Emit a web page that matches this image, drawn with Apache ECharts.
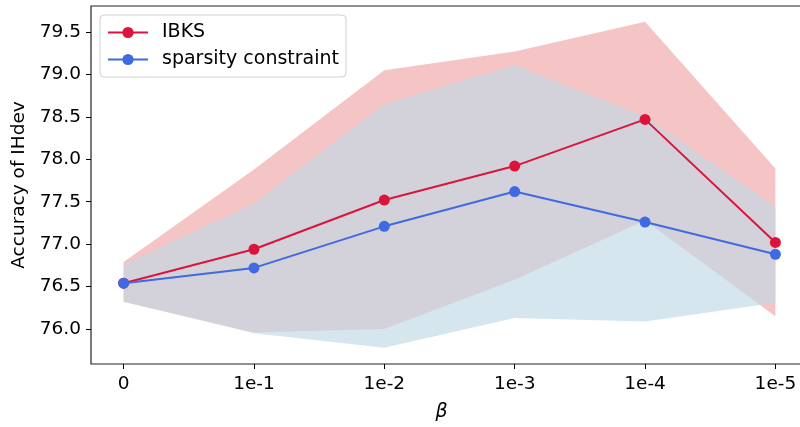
<!DOCTYPE html>
<html>
<head>
<meta charset="utf-8">
<script src="https://cdn.jsdelivr.net/npm/echarts@6/dist/echarts.min.js"></script>
<style>html,body{margin:0;padding:0;background:#fff}#c{width:800px;height:427px}</style>
</head>
<body>
<div id="c"></div>
<script>
const categories = ['0', '1e-1', '1e-2', '1e-3', '1e-4', '1e-5'];
const ibksMean = [76.54, 76.94, 77.52, 77.92, 78.47, 77.02];
const ibksUpper = [76.79, 77.88, 79.05, 79.27, 79.62, 77.89];
const ibksLower = [76.32, 75.96, 76.00, 76.58, 77.28, 76.15];
const sparseMean = [76.54, 76.72, 77.21, 77.62, 77.26, 76.88];
const sparseUpper = [76.76, 77.48, 78.65, 79.11, 78.50, 77.44];
const sparseLower = [76.32, 75.95, 75.78, 76.13, 76.09, 76.31];
const yTicks = [76.0, 76.5, 77.0, 77.5, 78.0, 78.5, 79.0, 79.5];

const FONT = 'DejaVu Sans';
const xIdx = categories.map((c, i) => i);

function band(name, upper, lower, fill, z) {
  return {
    type: 'custom', name: name, z: z, silent: true,
    data: [[0, upper[0]]],
    renderItem: function (params, api) {
      const pts = [];
      for (let i = 0; i < upper.length; i++) pts.push(api.coord([xIdx[i], upper[i]]));
      for (let i = lower.length - 1; i >= 0; i--) pts.push(api.coord([xIdx[i], lower[i]]));
      return { type: 'polygon', shape: { points: pts }, style: { fill: fill, stroke: null } };
    }
  };
}

const chart = echarts.init(document.getElementById('c'), null, { renderer: 'canvas' });
chart.setOption({
  animation: false,
  backgroundColor: '#fff',
  textStyle: { fontFamily: FONT },
  grid: { left: 91, right: -8, top: 6, bottom: 63, show: true, borderColor: '#222', borderWidth: 1.2, backgroundColor: 'transparent', outerBoundsMode: 'none', containLabel: false },
  legend: {
    orient: 'vertical', left: 100, top: 15,
    data: ['IBKS', 'sparsity constraint'],
    itemWidth: 40, itemHeight: 14, itemGap: 8,
    padding: [8, 7, 8, 7],
    backgroundColor: 'rgba(255,255,255,0.8)', borderColor: '#d0d0d0', borderWidth: 1, borderRadius: 4,
    textStyle: { fontFamily: FONT, fontSize: 19, color: '#000', padding: [0, 0, 0, 9] }
  },
  xAxis: {
    type: 'value', min: -0.25, max: 5.25,
    name: 'β', nameLocation: 'middle', nameGap: 39,
    nameTextStyle: { fontFamily: FONT, fontSize: 19, fontStyle: 'italic', color: '#000', padding: [0, 16, 0, 0] },
    splitLine: { show: false },
    axisLine: { show: false, onZero: false },
    axisTick: { show: true, customValues: xIdx, length: 5, lineStyle: { color: '#000', width: 1 } },
    axisLabel: { customValues: xIdx, formatter: v => categories[Math.round(v)], fontFamily: FONT, fontSize: 18.5, color: '#000', margin: 11 }
  },
  yAxis: {
    type: 'value', min: 75.588, max: 79.806,
    name: 'Accuracy of IHdev', nameLocation: 'middle', nameGap: 62,
    nameTextStyle: { fontFamily: FONT, fontSize: 18.5, color: '#000' },
    splitLine: { show: false },
    axisLine: { show: false, onZero: false },
    axisTick: { show: true, customValues: yTicks, length: 5, lineStyle: { color: '#000', width: 1 } },
    axisLabel: { customValues: yTicks, formatter: v => v.toFixed(1), fontFamily: FONT, fontSize: 18.5, color: '#000', margin: 10 }
  },
  series: [
    band('ibksBand', ibksUpper, ibksLower, 'rgba(230,110,110,0.4)', 1),
    band('sparseBand', sparseUpper, sparseLower, 'rgba(192,216,230,0.65)', 2),
    {
      type: 'line', name: 'IBKS', z: 3,
      data: xIdx.map((x, i) => [x, ibksMean[i]]),
      symbol: 'circle', symbolSize: 11, showSymbol: true,
      lineStyle: { color: '#dc143c', width: 2 }, itemStyle: { color: '#dc143c' }
    },
    {
      type: 'line', name: 'sparsity constraint', z: 4,
      data: xIdx.map((x, i) => [x, sparseMean[i]]),
      symbol: 'circle', symbolSize: 11, showSymbol: true,
      lineStyle: { color: '#4169e1', width: 2 }, itemStyle: { color: '#4169e1' }
    }
  ]
});
</script>
</body>
</html>
